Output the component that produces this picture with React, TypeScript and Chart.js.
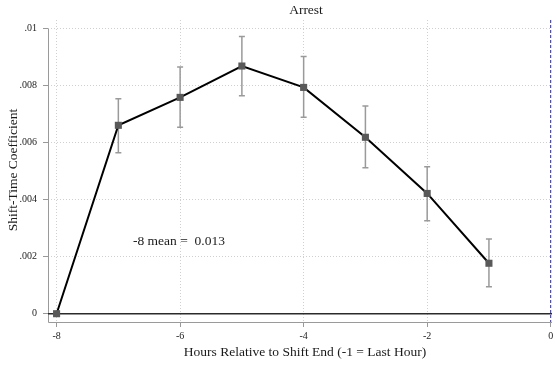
import React, { useEffect, useRef } from "react";
import { Chart, registerables } from "chart.js";

Chart.register(...registerables);

const hours = [-8, -7, -6, -5, -4, -3, -2, -1];
const coef = [0, 0.00661, 0.00759, 0.00869, 0.00794, 0.00619, 0.00422, 0.00177];
const ciLow = [0, 0.00565, 0.00654, 0.00765, 0.00689, 0.00512, 0.00326, 0.00095];
const ciHigh = [0, 0.00754, 0.00866, 0.00973, 0.00902, 0.00729, 0.00516, 0.00262];
const xTicks = [-8, -6, -4, -2, 0];
const yTicks = [0, 0.002, 0.004, 0.006, 0.008, 0.01];
const yTickLabels = ["0", ".002", ".004", ".006", ".008", ".01"];
const titleText = "Arrest";
const xTitle = "Hours Relative to Shift End (-1 = Last Hour)";
const yTitle = "Shift-Time Coefficient";
const noteText = "-8 mean =  0.013";

const FONT = "'Liberation Serif', 'DejaVu Serif', serif";

const decorPlugin = {
  id: "decor",
  beforeDatasetsDraw(chart: any) {
    const { ctx, chartArea, scales } = chart;
    const xs = scales.x;
    const ys = scales.y;
    ctx.save();
    // axis lines (solid gray)
    ctx.strokeStyle = "#9a9a9a";
    ctx.lineWidth = 1;
    const yTop = ys.getPixelForValue(yTicks[yTicks.length - 1]);
    ctx.beginPath();
    ctx.moveTo(chartArea.left + 0.5, yTop);
    ctx.lineTo(chartArea.left + 0.5, chartArea.bottom + 0.5);
    ctx.lineTo(chartArea.right, chartArea.bottom + 0.5);
    ctx.stroke();
    // zero line
    const y0 = ys.getPixelForValue(0);
    ctx.strokeStyle = "#2b2b2b";
    ctx.lineWidth = 1.5;
    ctx.beginPath();
    ctx.moveTo(chartArea.left, y0);
    ctx.lineTo(chartArea.right, y0);
    ctx.stroke();
    // blue dashed line at x = 0
    const x0 = xs.getPixelForValue(0);
    ctx.strokeStyle = "#1f1fd6";
    ctx.lineWidth = 1;
    ctx.setLineDash([3, 2]);
    ctx.beginPath();
    ctx.moveTo(x0, chartArea.top);
    ctx.lineTo(x0, chartArea.bottom);
    ctx.stroke();
    ctx.setLineDash([]);
    // error bars
    ctx.strokeStyle = "#9a9a9a";
    ctx.lineWidth = 1.5;
    for (let i = 0; i < hours.length; i++) {
      if (ciLow[i] === ciHigh[i]) continue;
      const x = xs.getPixelForValue(hours[i]);
      const yl = ys.getPixelForValue(ciLow[i]);
      const yh = ys.getPixelForValue(ciHigh[i]);
      ctx.beginPath();
      ctx.moveTo(x, yl);
      ctx.lineTo(x, yh);
      ctx.moveTo(x - 3, yl);
      ctx.lineTo(x + 3, yl);
      ctx.moveTo(x - 3, yh);
      ctx.lineTo(x + 3, yh);
      ctx.stroke();
    }
    ctx.restore();
  },
  afterDraw(chart: any) {
    const { ctx } = chart;
    ctx.save();
    ctx.fillStyle = "#1a1a1a";
    ctx.textBaseline = "middle";
    ctx.font = `13.5px ${FONT}`;
    ctx.textAlign = "center";
    ctx.fillText(titleText, 306, 10);
    ctx.fillText(xTitle, 305, 352);
    ctx.textAlign = "left";
    ctx.fillText(noteText, 133, 241);
    ctx.translate(13, 170);
    ctx.rotate(-Math.PI / 2);
    ctx.textAlign = "center";
    ctx.fillText(yTitle, 0, 0);
    ctx.restore();
  },
};

export default function App() {
  const ref = useRef<HTMLCanvasElement>(null);
  useEffect(() => {
    if (!ref.current) return;
    const gridColor = (c: any) => (c.tick && c.tick.value === 0 ? "rgba(0,0,0,0)" : "#d0d0d0");
    const chart = new Chart(ref.current, {
      type: "line",
      data: {
        datasets: [
          {
            data: hours.map((h, i) => ({ x: h, y: coef[i] })),
            borderColor: "#000000",
            borderWidth: 2,
            pointStyle: "rect",
            pointRadius: 5,
            pointBackgroundColor: "#595959",
            pointBorderColor: "#595959",
            pointBorderWidth: 0,
            tension: 0,
          },
        ],
      },
      options: {
        animation: false,
        responsive: false,
        devicePixelRatio: 1,
        layout: { padding: { top: 20, left: 0, right: 0, bottom: 0 } },
        plugins: { legend: { display: false }, tooltip: { enabled: false } },
        scales: {
          x: {
            type: "linear",
            min: -8.139,
            max: 0.021,
            afterBuildTicks: (s: any) => {
              s.ticks = xTicks.map((v) => ({ value: v }));
            },
            afterFit: (s: any) => {
              s.height = 46;
            },
            ticks: {
              font: { family: FONT, size: 10 },
              color: "#222",
              padding: 3,
              maxRotation: 0,
              callback: (v: any) => String(v),
            },
            grid: {
              color: gridColor,
              lineWidth: 1,
              tickLength: 5,
              tickColor: "#999",
              tickBorderDash: [],
            },
            border: { display: false, dash: [1, 2] },
          },
          y: {
            type: "linear",
            min: -0.000291,
            max: 0.010305,
            afterBuildTicks: (s: any) => {
              s.ticks = yTicks.map((v) => ({ value: v }));
            },
            afterFit: (s: any) => {
              s.width = 48;
            },
            ticks: {
              font: { family: FONT, size: 10 },
              color: "#222",
              padding: 6,
              callback: (v: any) => {
                const i = yTicks.findIndex((t) => Math.abs(t - v) < 1e-9);
                return i >= 0 ? yTickLabels[i] : "";
              },
            },
            grid: {
              color: gridColor,
              lineWidth: 1,
              tickLength: 5,
              tickColor: "#999",
              tickBorderDash: [],
            },
            border: { display: false, dash: [1, 2] },
          },
        },
      },
      plugins: [decorPlugin],
    });
    return () => chart.destroy();
  }, []);
  return (
    <div style={{ position: "absolute", left: 0, top: 0, width: 557, height: 368, background: "#fff" }}>
      <canvas ref={ref} width={557} height={368} />
    </div>
  );
}
